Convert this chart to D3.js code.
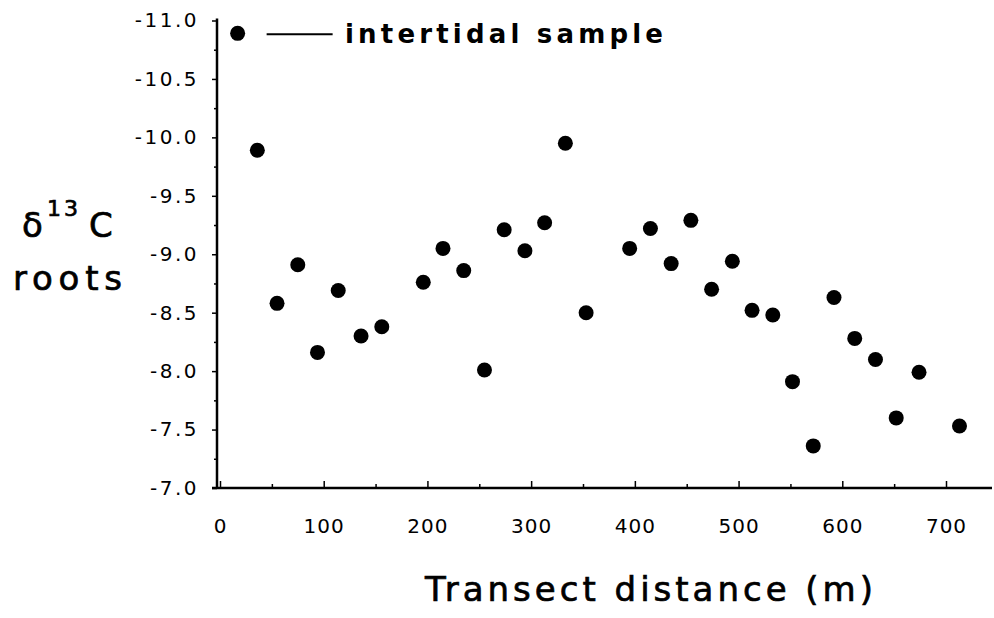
<!DOCTYPE html>
<html>
<head>
<meta charset="utf-8">
<script src="https://cdn.jsdelivr.net/npm/d3@7"></script>
<style>
  body { margin: 0; background: #fff; }
  text { font-family: "DejaVu Sans", sans-serif; fill: #000; }
</style>
</head>
<body>
<div id="chart"></div>
<script>
// transect samples
let distance = [17, 36, 55, 75, 94, 114, 136, 156, 196, 215, 235, 255, 274, 294, 313, 333, 353,
  395, 415, 435, 454, 474, 494, 513, 533, 552, 572, 592, 612, 632, 652, 674, 713]
let delta13C = [-10.89, -9.89, -8.58, -8.91, -8.16, -8.69, -8.30, -8.38, -8.76, -9.05, -8.86, -8.01, -9.21, -9.03, -9.27, -9.95, -8.50,
  -9.05, -9.22, -8.92, -9.29, -8.70, -8.94, -8.52, -8.48, -7.91, -7.36, -8.63, -8.28, -8.10, -7.60, -7.99, -7.53]

let xMajor = [0, 100, 200, 300, 400, 500, 600, 700]
let xMinor = [50, 150, 250, 350, 450, 550, 650]
let yMajor = [-11, -10.5, -10, -9.5, -9, -8.5, -8, -7.5, -7]
let yMinor = [-10.75, -10.25, -9.75, -9.25, -8.75, -8.25, -7.75, -7.25]

let width = 994;
let height = 618;

let svg = d3.select("#chart").append("svg")
    .attr("width", width)
    .attr("height", height);

// scales (y reversed: most negative on top)
let x = d3.scaleLinear([0, 700], [220, 946]);
let y = d3.scaleLinear([-7, -11], [488, 20.5]);

let fmt = d => d.toFixed(1);

// x axis, ticks point up into the plot
let xAxis = svg.append("g")
    .attr("transform", "translate(0,488)")
    .call(d3.axisBottom(x).tickValues(xMajor).tickSizeInner(-7).tickSizeOuter(0).tickPadding(31).tickFormat(d3.format("d")))
xAxis.select(".domain").remove()
xAxis.selectAll("text").style("font-size", "20px").attr("letter-spacing", 1)
xAxis.selectAll("line").attr("stroke-width", 1.5)

svg.append("g")
    .attr("transform", "translate(0,488)")
    .call(d3.axisBottom(x).tickValues(xMinor).tickSizeInner(-4).tickSizeOuter(0).tickFormat(""))
    .call(g => g.select(".domain").remove())
    .selectAll("line").attr("stroke-width", 1.5)

svg.append("line")
    .attr("x1", 212).attr("x2", 992)
    .attr("y1", 488).attr("y2", 488)
    .attr("stroke", "black")
    .attr("stroke-width", 2.5)

// y axis
let yAxis = svg.append("g")
    .attr("transform", "translate(217,0)")
    .call(d3.axisLeft(y).tickValues(yMajor).tickSizeInner(5).tickSizeOuter(0).tickPadding(13).tickFormat(fmt))
yAxis.select(".domain").remove()
yAxis.selectAll("text").style("font-size", "20px").attr("letter-spacing", 2.5)
yAxis.selectAll("line").attr("stroke-width", 1.5)

svg.append("g")
    .attr("transform", "translate(217,0)")
    .call(d3.axisLeft(y).tickValues(yMinor).tickSizeInner(3).tickSizeOuter(0).tickFormat(""))
    .call(g => g.select(".domain").remove())
    .selectAll("line").attr("stroke-width", 1.5)

svg.append("line")
    .attr("x1", 217).attr("x2", 217)
    .attr("y1", y(-11) - 2).attr("y2", 489)
    .attr("stroke", "black")
    .attr("stroke-width", 2.5)

// points
svg.append("g")
    .selectAll("circle")
    .data(distance.map((d, i) => [d, delta13C[i]]))
    .join("circle")
    .attr("cx", d => x(d[0]))
    .attr("cy", d => y(d[1]))
    .attr("r", 7.5)
    .attr("fill", "black")

// label the first point
let first = [distance[0], delta13C[0]]
svg.append("line")
    .attr("x1", x(first[0]) + 29).attr("x2", x(first[0]) + 95)
    .attr("y1", y(first[1]) + 1).attr("y2", y(first[1]) + 1)
    .attr("stroke", "black")
    .attr("stroke-width", 2)

svg.append("text")
    .attr("x", 345)
    .attr("y", y(first[1]) + 10)
    .attr("font-size", 26)
    .attr("font-weight", "bold")
    .attr("textLength", 318)
    .attr("lengthAdjust", "spacing")
    .text("intertidal sample")

// y title
let heavy = t => t.attr("stroke", "black").attr("stroke-width", 0.7)

svg.append("text")
    .attr("x", 22).attr("y", 237)
    .attr("font-size", 34)
    .call(heavy)
    .text("δ")
svg.append("text")
    .attr("x", 47).attr("y", 216)
    .attr("font-size", 22)
    .attr("textLength", 31)
    .attr("lengthAdjust", "spacing")
    .call(heavy)
    .text("13")
svg.append("text")
    .attr("x", 89).attr("y", 237)
    .attr("font-size", 34)
    .call(heavy)
    .text("C")
svg.append("text")
    .attr("x", 13).attr("y", 290)
    .attr("font-size", 34)
    .attr("textLength", 109)
    .attr("lengthAdjust", "spacing")
    .call(heavy)
    .text("roots")

// x title
svg.append("text")
    .attr("x", 425).attr("y", 601)
    .attr("font-size", 34)
    .attr("textLength", 448)
    .attr("lengthAdjust", "spacing")
    .call(heavy)
    .text("Transect distance (m)")
</script>
</body>
</html>
